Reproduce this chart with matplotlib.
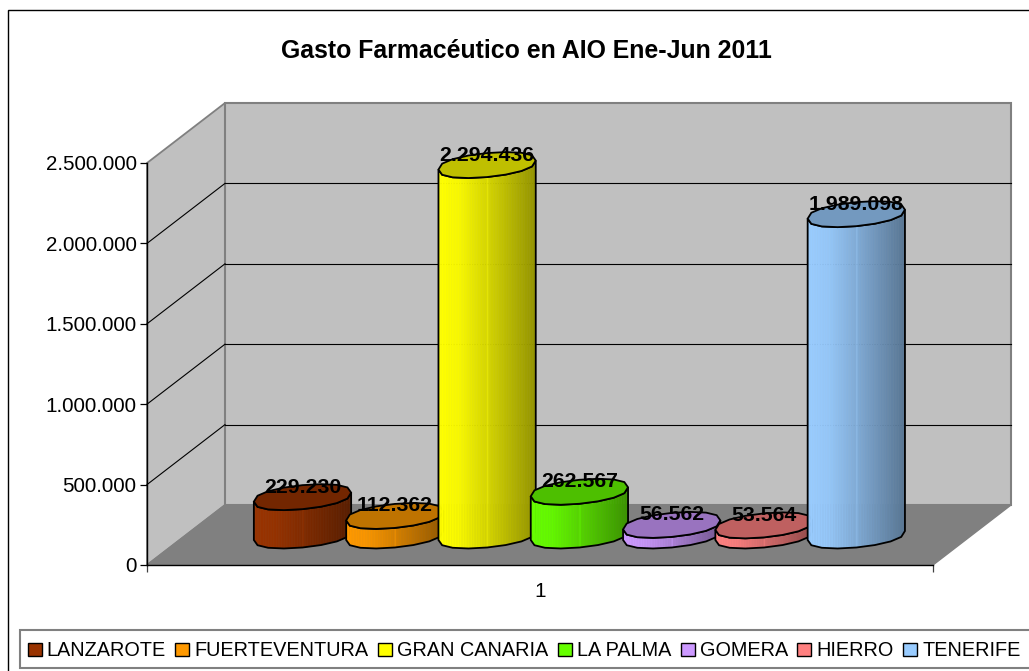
import numpy as np
import matplotlib
matplotlib.use("Agg")
import matplotlib.pyplot as plt
from matplotlib.collections import PolyCollection
from matplotlib.colors import to_rgb
from matplotlib.patches import Patch, Polygon, Rectangle
from matplotlib.ticker import FuncFormatter
from matplotlib.transforms import Affine2D, IdentityTransform

TITLE = "Gasto Farmacéutico en AIO Ene-Jun 2011"
REGIONS = ["LANZAROTE", "FUERTEVENTURA", "GRAN CANARIA", "LA PALMA", "GOMERA", "HIERRO", "TENERIFE"]
VALUES = [229230, 112362, 2294436, 262567, 56562, 53564, 1989098]
COLORS = ["#993300", "#FF9900", "#FFFF00", "#66FF00", "#CC99FF", "#FF8080", "#99CCFF"]
Y_TICKS = [0, 500000, 1000000, 1500000, 2000000, 2500000]
CATEGORY = "1"

plt.rcParams["font.family"] = ["Liberation Sans", "DejaVu Sans"]
W, H = 1029, 671
FS = 14.9
FS_VAL = 15.3
FS_LEG = 14.3
fig = plt.figure(figsize=(W / 100, H / 100), dpi=100, facecolor="white")

# front plane of the 3D box
L, R_, T, B = 147, 933, 163, 565
ax = fig.add_axes([L / W, (H - B) / H, (R_ - L) / W, (B - T) / H])
ax.patch.set_visible(False)
SLOT = 92.3
x0 = -(302.5 - 186) / SLOT
x1 = x0 + (R_ - L) / SLOT
ax.set_xlim(x0, x1)
ax.set_ylim(0, 2500000)
ux = 1 / SLOT
uy = 2500000 / (B - T)

back = ax.transData + Affine2D().translate(78, 60)
mid = ax.transData + Affine2D().translate(39, 29.5)


def depth(x_front, y_val):
    """Data coordinates of the back-plane point in front-plane data units."""
    return x_front + 78 * ux, y_val + 60 * uy


GRAY = "#C0C0C0"
DARK = "#808080"
top = Y_TICKS[-1]
ax.add_patch(Polygon([(x0, 0), (x0, top), depth(x0, top), depth(x0, 0)], fc=GRAY, ec=DARK, lw=1.3, clip_on=False, zorder=1))
ax.add_patch(Polygon([(x0, 0), (x0, top), (x1, top), (x1, 0)], fc=GRAY, ec=DARK, lw=1.5, clip_on=False, zorder=1, transform=back))
ax.add_patch(Polygon([(x0, 0), depth(x0, 0), depth(x1, 0), (x1, 0)], fc=DARK, ec=DARK, lw=1, clip_on=False, zorder=2))
for v in Y_TICKS[1:-1]:
    xb, yb = depth(x0, v)
    ax.plot([x0, xb], [v, yb], color="black", lw=0.8, clip_on=False, zorder=1.5)
    ax.plot([x0, x1], [v, v], color="black", lw=0.8, clip_on=False, zorder=1.5, transform=back)

# cylinders
RAD, RY, SKEW = 0.527, 12.0, 4.5
LIFT = 1.5 * uy


def outline(angle):
    s = np.sin(angle)
    c = np.cos(angle)
    return RAD * c, (RY * np.sign(s) * np.abs(s) ** 0.8 + SKEW * c) * uy


ell_x, ell_y = outline(np.linspace(0, 2 * np.pi, 17))
arc_x, arc_y = outline(np.linspace(np.pi, 2 * np.pi, 9))
fine_x = np.linspace(-RAD, RAD, 61)
fine_y = np.interp(fine_x, arc_x, arc_y)
shade = np.interp(np.linspace(0, 1, 60), [0, 0.22, 0.5, 1], [1.0, 0.97, 0.84, 0.58])
shade[30] = min(shade[30] * 1.08, 1.0)

for i, (val, col) in enumerate(zip(VALUES, COLORS)):
    z = 3 + i
    rgb = np.array(to_rgb(col))
    h = val + LIFT
    strips = [[(i + fine_x[j], fine_y[j]), (i + fine_x[j + 1], fine_y[j + 1]),
               (i + fine_x[j + 1], fine_y[j + 1] + h), (i + fine_x[j], fine_y[j] + h)]
              for j in range(60)]
    pc = PolyCollection(strips, facecolors=[tuple(rgb * s) for s in shade], edgecolors="face",
                        linewidths=0.4, transform=mid, clip_on=False, zorder=z)
    ax.add_collection(pc, autolim=False)
    sil = np.r_[np.c_[i + arc_x, arc_y], np.c_[i + arc_x[::-1], arc_y[::-1] + h]]
    ax.add_patch(Polygon(sil, fc="none", ec="black", lw=1.3, transform=mid, clip_on=False, zorder=z + 0.1))
    ax.add_patch(Polygon(np.c_[i + ell_x, ell_y + h], fc=tuple(rgb * 0.75), ec="black", lw=1.3,
                         transform=mid, clip_on=False, zorder=z + 0.2))
    ax.text(i, val, f"{val:,}".replace(",", "."), ha="center", va="center", fontsize=FS_VAL, fontweight="bold",
            color="black", zorder=20, clip_on=False,
            transform=ax.transData + Affine2D().translate(39, 41))

# axes
for s in ("top", "right"):
    ax.spines[s].set_visible(False)
for s in ("left", "bottom"):
    ax.spines[s].set_color("black")
    ax.spines[s].set_linewidth(1.0)
    ax.spines[s].set_zorder(2.5)
ax.set_yticks(Y_TICKS)
ax.yaxis.set_major_formatter(FuncFormatter(lambda v, _: f"{int(v):,}".replace(",", ".")))
ax.tick_params(axis="y", length=5, width=0.9, pad=2.5, labelsize=FS, color="black")
ax.set_xticks([x0, x1])
ax.set_xticklabels(["", ""])
ax.tick_params(axis="x", which="major", length=5, width=0.9, color="#404040")
ax.set_xticks([(x0 + x1) / 2], minor=True)
ax.set_xticklabels([CATEGORY], minor=True)
ax.tick_params(axis="x", which="minor", length=0, pad=12, labelsize=FS)

# title, frame, legend
fig.text(526.5 / W, 1 - 51 / H, TITLE, ha="center", va="center", fontsize=17.9, fontweight="bold")
fig.add_artist(Rectangle((8, -10), W + 20, H + 10 - 10, fc="none", ec="black", lw=1.0,
                         transform=IdentityTransform(), zorder=-1))
fig.add_artist(Rectangle((20, 3), W + 20, 38, fc="white", ec=DARK, lw=1.5,
                         transform=IdentityTransform(), zorder=-0.5))
handles = [Patch(fc=c, ec="black", lw=1.0, label=r) for r, c in zip(REGIONS, COLORS)]
px = FS_LEG * 100 / 72
leg = fig.legend(handles=handles, ncol=7, loc="lower left", bbox_to_anchor=(20 / W, 3 / H), borderaxespad=0,
                 fontsize=FS_LEG, frameon=False,
                 handlelength=14 / px, handleheight=0.7, handletextpad=5 / px, columnspacing=9.5 / px,
                 borderpad=0.38, labelspacing=0)

fig.savefig("out.png", dpi=100)
